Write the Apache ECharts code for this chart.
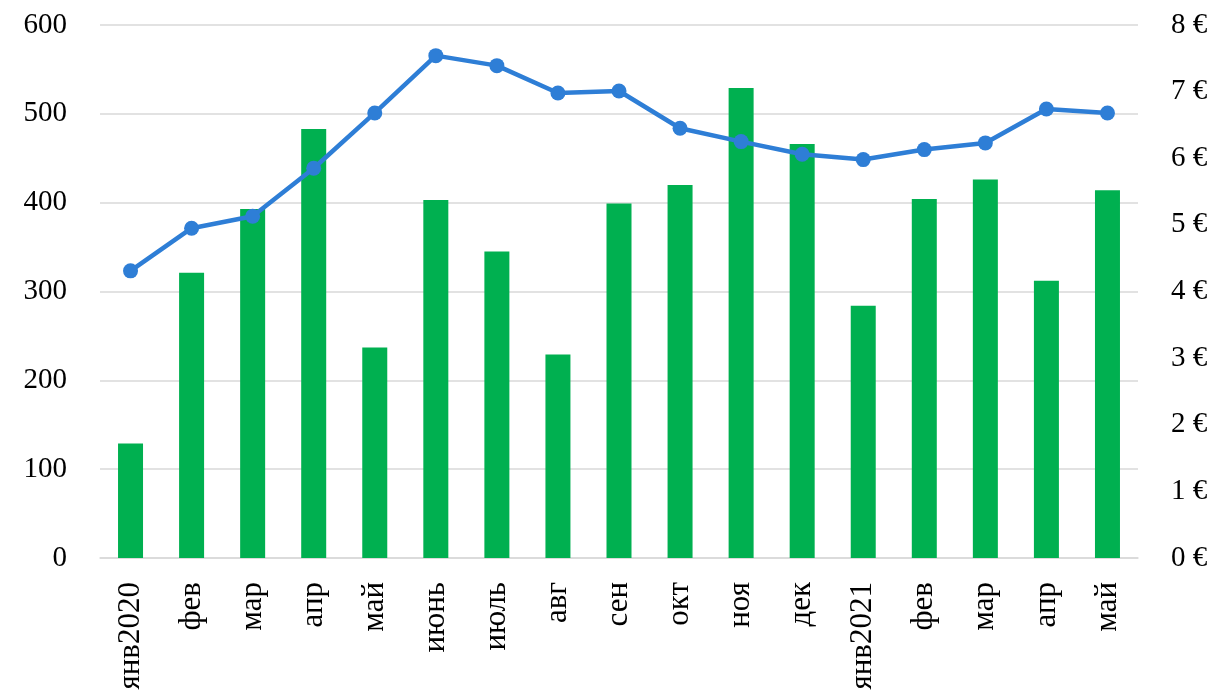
<!DOCTYPE html>
<html>
<head>
<meta charset="utf-8">
<title>chart</title>
<script src="https://cdn.jsdelivr.net/npm/echarts@6/dist/echarts.min.js"></script>
<style>
  html, body { margin: 0; padding: 0; background: #fff; }
  #main { width: 1218px; height: 694px; }
</style>
</head>
<body>
<div id="main"></div>
<script>
// месяцы
const months = ['янв2020', 'фев', 'мар', 'апр', 'май', 'июнь', 'июль', 'авг', 'сен', 'окт', 'ноя', 'дек', 'янв2021', 'фев', 'мар', 'апр', 'май'];
// столбцы (левая ось)
const volumes = [129, 321, 393, 483, 237, 403, 345, 229, 399, 420, 529, 466, 284, 404, 426, 312, 414];
// линия (правая ось, €)
const prices = [4.31, 4.95, 5.13, 5.85, 6.68, 7.54, 7.39, 6.98, 7.01, 6.45, 6.25, 6.06, 5.98, 6.13, 6.23, 6.74, 6.68];

const font = 'Liberation Serif';
const chart = echarts.init(document.getElementById('main'));

chart.setOption({
  backgroundColor: '#ffffff',
  animation: false,
  grid: { left: 100, right: 80, top: 25, bottom: 136 },
  xAxis: {
    type: 'category',
    data: months,
    axisLine: { lineStyle: { color: '#d9d9d9', width: 1.5 } },
    axisTick: { show: false },
    axisLabel: {
      rotate: 90,
      interval: 0,
      margin: 24,
      color: '#000',
      fontFamily: font,
      fontSize: 31
    }
  },
  yAxis: [
    {
      type: 'value',
      min: 0,
      max: 600,
      interval: 100,
      axisLine: { show: false },
      axisTick: { show: false },
      splitLine: { lineStyle: { color: '#d9d9d9', width: 1.5 } },
      axisLabel: { color: '#000', fontFamily: font, fontSize: 29, margin: 33 }
    },
    {
      type: 'value',
      min: 0,
      max: 8,
      interval: 1,
      axisLine: { show: false },
      axisTick: { show: false },
      splitLine: { show: false },
      axisLabel: {
        color: '#000',
        fontFamily: font,
        fontSize: 29,
        margin: 33,
        formatter: v => v + ' €'
      }
    }
  ],
  series: [
    {
      type: 'bar',
      data: volumes,
      barWidth: 25,
      itemStyle: { color: '#00B050' }
    },
    {
      type: 'line',
      yAxisIndex: 1,
      data: prices,
      symbol: 'circle',
      symbolSize: 15,
      lineStyle: { color: '#2E7ED6', width: 4.5 },
      itemStyle: { color: '#2E7ED6' }
    }
  ]
});
</script>
</body>
</html>
